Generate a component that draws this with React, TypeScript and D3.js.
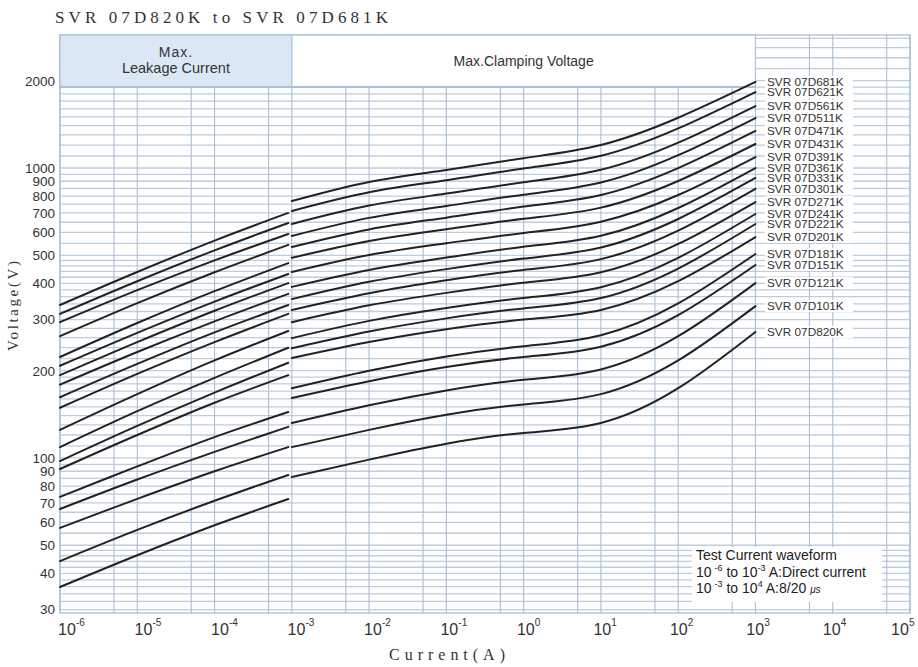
import React from "react";
import * as d3 from "d3";

// ---------- data ----------
const models = [
  "SVR 07D681K", "SVR 07D621K", "SVR 07D561K", "SVR 07D511K", "SVR 07D471K",
  "SVR 07D431K", "SVR 07D391K", "SVR 07D361K", "SVR 07D331K", "SVR 07D301K",
  "SVR 07D271K", "SVR 07D241K", "SVR 07D221K", "SVR 07D201K", "SVR 07D181K",
  "SVR 07D151K", "SVR 07D121K", "SVR 07D101K", "SVR 07D820K",
];

// Max. leakage current region (A) -> voltage (V)
const leakCurrents = [1e-6, 1e-5, 1e-4, 9e-4];
const leakageVolts = [
  [337, 438, 562, 700],
  [314, 407, 520, 646],
  [294, 379, 480, 592],
  [263, 342, 437, 543],
  [223, 292, 376, 470],
  [208, 270, 346, 431],
  [193, 251, 322, 401],
  [179, 232, 296, 368],
  [162, 211, 271, 337],
  [149, 195, 251, 314],
  [125, 166, 217, 274],
  [109, 145, 189, 240],
  [97.6, 129, 168, 213],
  [91.6, 120, 155, 193],
  [73.4, 93.5, 118, 144],
  [66.7, 84.3, 105, 128],
  [57.4, 72.3, 90, 109],
  [44.1, 56.5, 71.2, 87.4],
  [35.9, 46.2, 58.6, 72.2],
];

// Max. clamping voltage region (A) -> voltage (V)
const clampCurrents = [1e-3, 1e-2, 1e-1, 1, 10, 100, 1000];
const clampVolts = [
  [769, 895, 984, 1081, 1200, 1490, 1980],
  [711, 825, 907, 996, 1102, 1370, 1828],
  [641, 742, 816, 893, 986, 1223, 1636],
  [583, 673, 740, 809, 891, 1107, 1487],
  [534, 614, 674, 736, 807, 999, 1342],
  [490, 560, 615, 668, 730, 902, 1210],
  [438, 501, 550, 597, 653, 807, 1091],
  [389, 445, 491, 535, 584, 728, 1000],
  [353, 405, 448, 487, 532, 667, 924],
  [324, 370, 410, 445, 485, 608, 847],
  [294, 336, 371, 402, 437, 547, 763],
  [259, 297, 329, 356, 388, 490, 694],
  [239, 273, 303, 328, 356, 450, 641],
  [221, 251, 278, 300, 324, 407, 578],
  [174, 200, 224, 243, 265, 341, 505],
  [161, 184, 206, 223, 242, 311, 463],
  [132, 152, 171, 186, 202, 263, 401],
  [109, 125, 141, 153, 166, 217, 334],
  [86, 98.7, 112, 122, 132, 174, 272],
];

const yTickValues = [30, 40, 50, 60, 70, 80, 90, 100, 200, 300, 400, 500, 600, 700, 800, 900, 1000, 2000];
const xTickExponents = [-6, -5, -4, -3, -2, -1, 0, 1, 2, 3, 4, 5];

// ---------- layout ----------
const W = 918;
const H = 667;
const left = 60;
const right = 910;
const top = 35;
const bottom = 613;
const headerBottom = 87;

const x = d3.scaleLog().domain([1e-6, 1e5]).range([left, right]);
const y = d3.scaleLog().domain([30, 2000]).range([609.6, 80.7]);

const sans = "'Liberation Sans', Arial, sans-serif";
const serif = "'Liberation Serif', 'Times New Roman', serif";

const yGrid = [
  ...d3.range(30, 50, 2),
  ...d3.range(50, 100, 5),
  ...d3.range(100, 200, 10),
  ...d3.range(200, 500, 20),
  ...d3.range(500, 1000, 50),
  ...d3.range(1000, 2000, 100),
  ...d3.range(2000, 2900, 200),
];
const xGrid: number[] = [];
for (let e = -6; e <= 5; e++) {
  xGrid.push(Math.pow(10, e));
  if (e < 5) xGrid.push(5 * Math.pow(10, e));
}

const leakLine = d3
  .line<[number, number]>()
  .x((d) => x(d[0]))
  .y((d) => y(d[1]))
  .curve(d3.curveCatmullRom.alpha(0.5));

const clampLine = d3
  .line<[number, number]>()
  .x((d) => x(d[0]))
  .y((d) => y(d[1]))
  .curve(d3.curveNatural);

export default function App() {
  const yTop = (v: number) => Math.max(top, y(v));
  const labelY = models.map((_, i) => y(clampVolts[i][clampVolts[i].length - 1]));
  return (
    <svg
      width={W}
      height={H}
      viewBox={`0 0 ${W} ${H}`}
      style={{ position: "absolute", left: 0, top: 0, background: "#fff" }}
    >
      <rect x={0} y={0} width={W} height={H} fill="#fff" />
      {/* title */}
      <text x={55} y={23} fontFamily={serif} fontSize={17} fill="#333" textLength={333} lengthAdjust="spacing">
        SVR 07D820K to SVR 07D681K
      </text>

      {/* grid */}
      <g>
        {yGrid.map((v) => {
          const yy = yTop(v);
          if (yy <= top + 1 || yy > bottom) return null;
          return <line key={"h" + v} x1={left} x2={right} y1={yy} y2={yy} stroke="#bccde0" strokeWidth={1.3} />;
        })}
        {xGrid.map((c) => (
          <line key={"v" + c} x1={x(c)} x2={x(c)} y1={top} y2={bottom} stroke="#a9bfd6" strokeWidth={1.1} />
        ))}
        <rect x={left} y={top} width={right - left} height={bottom - top} fill="none" stroke="#a9bfd6" strokeWidth={1.3} />
      </g>

      {/* header */}
      <rect x={left} y={top} width={x(1e-3) - left} height={headerBottom - top} fill="#dae8f6" stroke="#a9c1da" strokeWidth={1.2} />
      <rect x={x(1e-3)} y={top} width={x(1e3) - x(1e-3)} height={headerBottom - top} fill="#fff" stroke="#a9c1da" strokeWidth={1.2} />
      <line x1={left} x2={x(1e3)} y1={headerBottom} y2={headerBottom} stroke="#a9c1da" strokeWidth={2} />
      <text x={(left + x(1e-3)) / 2} y={57} textAnchor="middle" fontFamily={sans} fontSize={14} fill="#333" letterSpacing={1}>
        Max.
      </text>
      <text x={(left + x(1e-3)) / 2} y={73} textAnchor="middle" fontFamily={sans} fontSize={14.5} fill="#333">
        Leakage Current
      </text>
      <text x={(x(1e-3) + x(1e3)) / 2} y={66} textAnchor="middle" fontFamily={sans} fontSize={14} fill="#333">
        Max.Clamping Voltage
      </text>

      {/* curves */}
      <g fill="none" stroke="#222" strokeWidth={2} strokeLinecap="round">
        {leakageVolts.map((vals, i) => (
          <path key={"l" + i} d={leakLine(leakCurrents.map((c, k) => [c, vals[k]] as [number, number])) || ""} />
        ))}
        {clampVolts.map((vals, i) => (
          <path key={"c" + i} d={clampLine(clampCurrents.map((c, k) => [c, vals[k]] as [number, number])) || ""} />
        ))}
      </g>

      {/* curve labels */}
      {labelY.map((yy, i) => (
        <rect key={"lb" + i} x={765} y={yy - 6} width={88} height={12} fill="#fff" />
      ))}
      {models.map((m, i) => (
        <text key={m} x={767} y={labelY[i]} dy="0.36em" fontFamily={sans} fontSize={11.8} fill="#333">
          {m}
        </text>
      ))}

      {/* y ticks */}
      {yTickValues.map((v) => (
        <text key={"yt" + v} x={55} y={y(v)} dy="0.36em" textAnchor="end" fontFamily={sans} fontSize={13.5} fill="#333">
          {v}
        </text>
      ))}
      <text
        transform={`translate(18, ${306}) rotate(-90)`}
        textAnchor="middle"
        fontFamily={serif}
        fontSize={15}
        fill="#333"
        textLength={90}
        lengthAdjust="spacing"
      >
        Voltage(V)
      </text>

      {/* x ticks */}
      {xTickExponents.map((e, i) => {
        const cx = Math.min(x(Math.pow(10, e)) + 7 - i * 0.8, 900);
        return (
          <g key={"xt" + e}>
            <text x={cx} y={635} textAnchor="middle" fontFamily={sans} fontSize={16} fill="#333">
              10
            </text>
            <text x={cx + 9} y={626} fontFamily={sans} fontSize={10} fill="#333">
              {e}
            </text>
          </g>
        );
      })}
      <text x={447} y={660} textAnchor="middle" fontFamily={serif} fontSize={16} fill="#333" textLength={116} lengthAdjust="spacing">
        Current(A)
      </text>

      {/* test current note */}
      <rect x={692} y={547} width={190} height={55} fill="#fff" />
      <g fontFamily={sans} fontSize={14} fill="#222">
        <text x={696} y={560}>Test Current waveform</text>
        <text x={696} y={577}>
          10
          <tspan fontSize={9} dx={3} dy={-6}>-6</tspan>
          <tspan dy={6}> to 10</tspan>
          <tspan fontSize={9} dy={-6}>-3</tspan>
          <tspan dy={6}> A:Direct current</tspan>
        </text>
        <text x={696} y={593}>
          10
          <tspan fontSize={9} dx={3} dy={-6}>-3</tspan>
          <tspan dy={6}> to 10</tspan>
          <tspan fontSize={9} dy={-6}>4</tspan>
          <tspan dy={6}> A:8/20 </tspan>
          <tspan fontSize={10} fontStyle="italic">μs</tspan>
        </text>
      </g>
    </svg>
  );
}
